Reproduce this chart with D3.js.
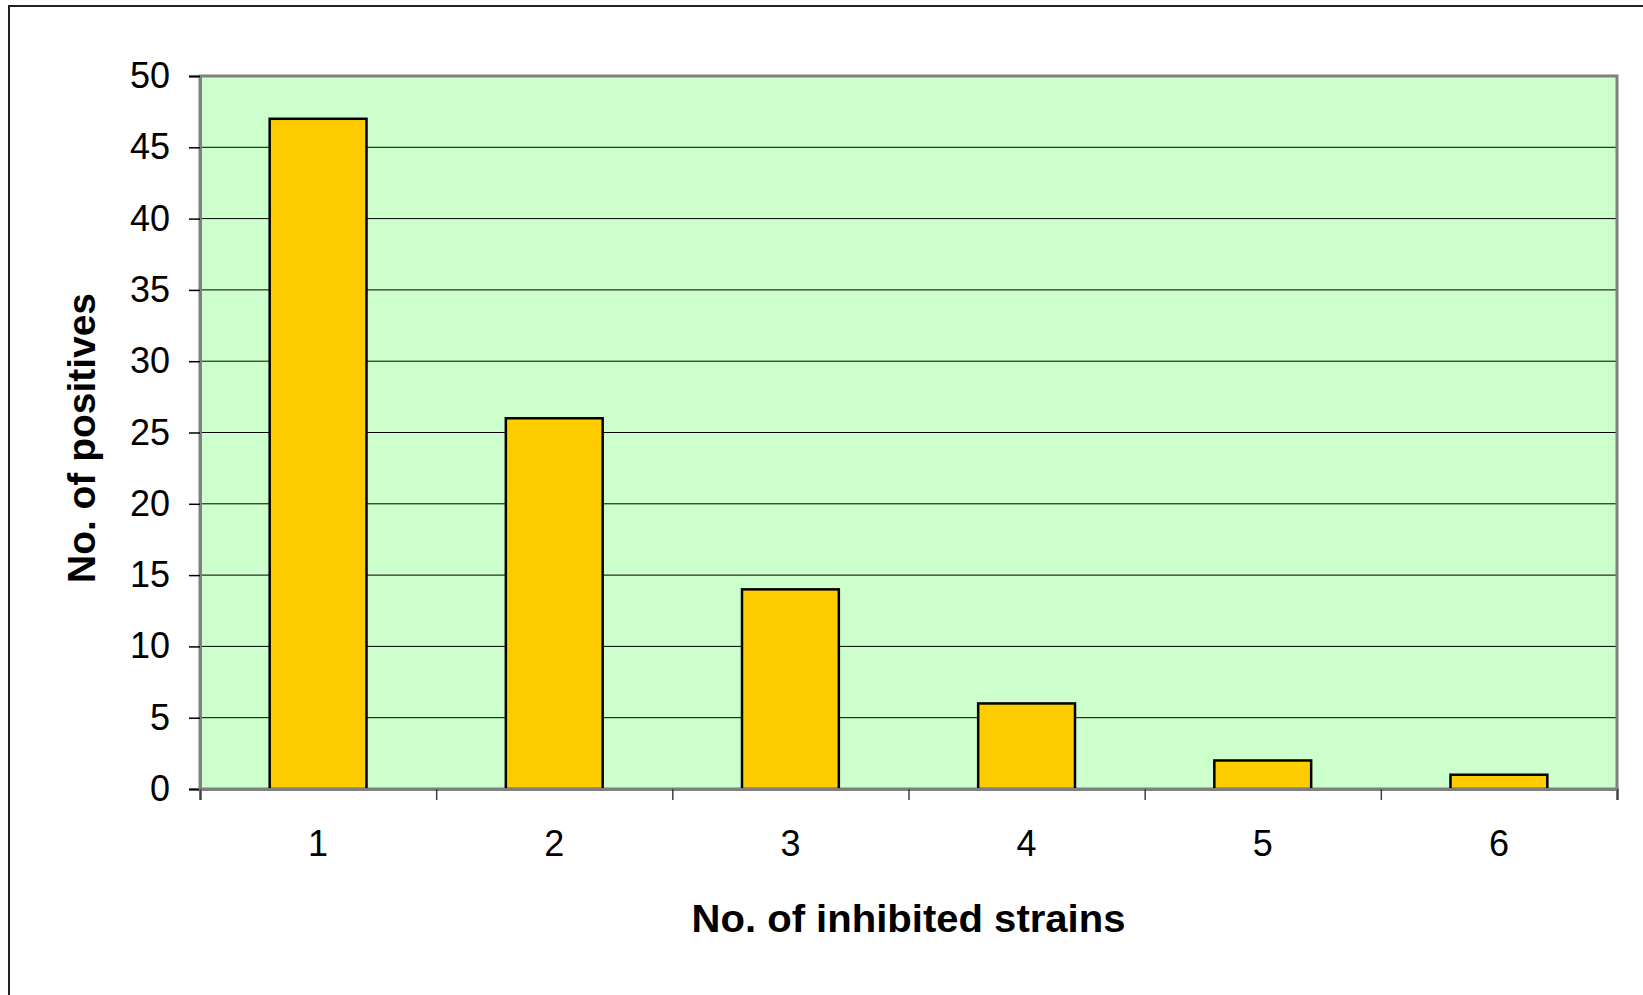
<!DOCTYPE html>
<html>
<head>
<meta charset="utf-8">
<script src="https://cdn.jsdelivr.net/npm/d3@7"></script>
<style>
  html, body { margin: 0; padding: 0; background: #fff; }
  svg { display: block; }
  text { font-family: "Liberation Sans", Arial, sans-serif; fill: #000; }
</style>
</head>
<body>
<script>
const categories = ["1", "2", "3", "4", "5", "6"];
const positives = [47, 26, 14, 6, 2, 1];
const yTicks = [0, 5, 10, 15, 20, 25, 30, 35, 40, 45, 50];
const xTitle = "No. of inhibited strains";
const yTitle = "No. of positives";

const W = 1643, H = 995;
const plot = { left: 200, top: 76, right: 1617, bottom: 789 };

const svg = d3.select("body").append("svg").attr("width", W).attr("height", H);

// outer chart frame (top and left visible)
svg.append("rect")
  .attr("x", 9).attr("y", 6)
  .attr("width", W + 20).attr("height", H + 20)
  .attr("fill", "#fff").attr("stroke", "#222").attr("stroke-width", 2);

const x = d3.scaleBand()
  .domain(categories)
  .range([plot.left, plot.right])
  .paddingInner(0.59)
  .paddingOuter(0.295);

const xb = d3.scaleLinear().domain([0, categories.length]).range([plot.left, plot.right]);

const y = d3.scaleLinear().domain([0, 50]).range([plot.bottom, plot.top]);

// plot background
svg.append("rect")
  .attr("x", plot.left).attr("y", plot.top)
  .attr("width", plot.right - plot.left).attr("height", plot.bottom - plot.top)
  .attr("fill", "#CCFFCC");

// gridlines
svg.append("g").selectAll("line")
  .data(yTicks.filter(d => d > 0 && d < 50))
  .join("line")
  .attr("x1", plot.left).attr("x2", plot.right)
  .attr("y1", d => y(d)).attr("y2", d => y(d))
  .attr("stroke", "#000").attr("stroke-width", 1);

// plot border (gray)
svg.append("rect")
  .attr("x", plot.left).attr("y", plot.top)
  .attr("width", plot.right - plot.left).attr("height", plot.bottom - plot.top)
  .attr("fill", "none").attr("stroke", "#808080").attr("stroke-width", 3);

// bars
svg.append("g").selectAll("rect")
  .data(categories.map((c, i) => ({ c, v: positives[i] })))
  .join("rect")
  .attr("x", d => x(d.c))
  .attr("y", d => y(d.v))
  .attr("width", x.bandwidth())
  .attr("height", d => y(0) - y(d.v))
  .attr("fill", "#FFCC00")
  .attr("stroke", "#000")
  .attr("stroke-width", 2.5);

// y axis
const yAxis = svg.append("g")
  .attr("transform", `translate(${plot.left},0)`)
  .call(d3.axisLeft(y).tickValues(yTicks).tickSize(11).tickPadding(19));
yAxis.select(".domain").attr("stroke", "#808080").attr("stroke-width", 3);
yAxis.selectAll(".tick line").attr("stroke", "#000").attr("stroke-width", 1.5);
yAxis.selectAll(".tick text")
  .style("font-family", "'Liberation Sans', Arial, sans-serif")
  .style("font-size", "36px").attr("fill", "#000");

// x axis: boundary ticks
const xTickAxis = svg.append("g")
  .attr("transform", `translate(0,${plot.bottom})`)
  .call(d3.axisBottom(xb).tickValues(d3.range(0, categories.length + 1)).tickSize(11).tickFormat(""));
xTickAxis.select(".domain").attr("stroke", "#808080").attr("stroke-width", 3);
xTickAxis.selectAll(".tick line").attr("stroke", "#404040").attr("stroke-width", 1.5);

// x axis: category labels
const xLabAxis = svg.append("g")
  .attr("transform", `translate(0,${plot.bottom})`)
  .call(d3.axisBottom(x).tickSize(0).tickPadding(41));
xLabAxis.select(".domain").remove();
xLabAxis.selectAll(".tick text")
  .style("font-family", "'Liberation Sans', Arial, sans-serif")
  .style("font-size", "36px").attr("fill", "#000");

// axis titles
svg.append("text")
  .attr("x", (plot.left + plot.right) / 2)
  .attr("y", 932)
  .attr("text-anchor", "middle")
  .style("font-size", "38px").style("font-weight", "bold")
  .attr("textLength", 434).attr("lengthAdjust", "spacingAndGlyphs")
  .text(xTitle);

svg.append("text")
  .attr("transform", `translate(95,438) rotate(-90)`)
  .attr("text-anchor", "middle")
  .style("font-size", "39px").style("font-weight", "bold")
  .attr("textLength", 290).attr("lengthAdjust", "spacingAndGlyphs")
  .text(yTitle);
</script>
</body>
</html>
